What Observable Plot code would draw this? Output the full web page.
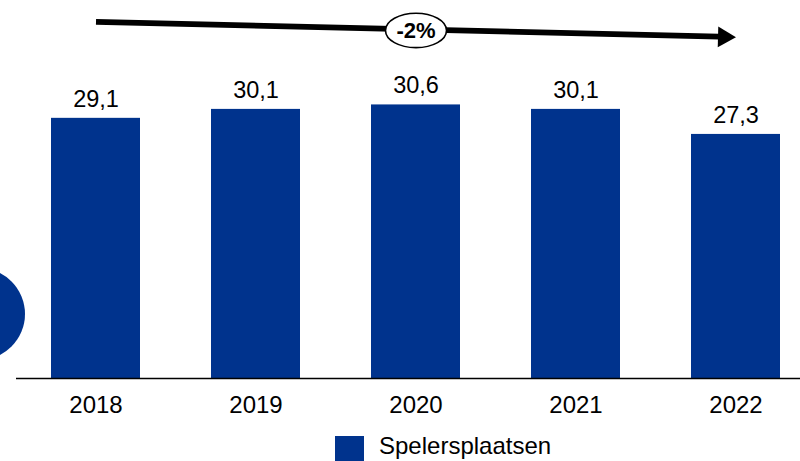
<!DOCTYPE html>
<html>
<head>
<meta charset="utf-8">
<script src="https://cdn.jsdelivr.net/npm/d3@7"></script>
<script src="https://cdn.jsdelivr.net/npm/@observablehq/plot@0.6"></script>
<style>
  html, body { margin: 0; padding: 0; background: #fff; }
  body { width: 800px; height: 461px; overflow: hidden; position: relative;
         font-family: "Liberation Sans", Arial, sans-serif; color: #000; }
  #chart svg { display: block; }
  #legend { position: relative; height: 36px; }
  #legend .sw { position: absolute; left: 335px; top: 11px; width: 29px; height: 29px; }
  #legend .lb { position: absolute; left: 379px; top: 9px; font-size: 24px; line-height: 24px; white-space: nowrap; }
  #deco { position: absolute; left: -67px; top: 268px; width: 92px; height: 92px; border-radius: 50%; }
</style>
</head>
<body>
<div id="chart"></div>
<div id="legend"><span class="sw"></span><span class="lb"></span></div>
<div id="deco"></div>
<script>
// ---- data ----
const years = ["2018", "2019", "2020", "2021", "2022"];
const spelersplaatsen = [29.1, 30.1, 30.6, 30.1, 27.3];
const valueLabels = ["29,1", "30,1", "30,6", "30,1", "27,3"];
const seriesName = "Spelersplaatsen";
const trendLabel = "-2%";
const trendStart = {x: "2018", y: 39.9};
const trendEnd = {x: "2022", y: 38.2};
const trendBadge = {x: "2020", y: 38.93};

const blue = "#00338d";

const data = years.map((year, i) => ({year, value: spelersplaatsen[i], label: valueLabels[i]}));

// custom ellipse symbol for the trend badge
const ellipseSymbol = {
  draw(ctx) {
    const rx = 30.5, ry = 17.2, k = 0.5523;
    ctx.moveTo(rx, 0);
    ctx.bezierCurveTo(rx, ry * k, rx * k, ry, 0, ry);
    ctx.bezierCurveTo(-rx * k, ry, -rx, ry * k, -rx, 0);
    ctx.bezierCurveTo(-rx, -ry * k, -rx * k, -ry, 0, -ry);
    ctx.bezierCurveTo(rx * k, -ry, rx, -ry * k, rx, 0);
    ctx.closePath();
  }
};

const chart = Plot.plot({
  width: 800,
  height: 425,
  marginTop: 0,
  marginBottom: 47,
  marginLeft: 16,
  marginRight: 0,
  style: {fontFamily: "'Liberation Sans', Arial, sans-serif", background: "#fff", color: "#000"},
  x: {domain: years, range: [15.5, 815.5], paddingInner: 0.444, paddingOuter: 0.222, label: null},
  y: {domain: [0, 42.28], axis: null},
  marks: [
    Plot.barY(data, {x: "year", y: "value", fill: blue}),
    Plot.ruleY([0], {stroke: "#000", strokeWidth: 1.5}),
    Plot.axisX({tickSize: 0, tickPadding: 17, fontSize: 24, label: null}),
    Plot.text(data, {x: "year", y: "value", text: "label", dy: -19, lineAnchor: "middle", fontSize: 23.5, fill: "#000"}),
    Plot.arrow([{x1: trendStart.x, y1: trendStart.y, x2: trendEnd.x, y2: trendEnd.y}], {
      x1: "x1", y1: "y1", x2: "x2", y2: "y2", bend: 0, headLength: 0, insetEnd: 17,
      stroke: "#000", strokeWidth: 5.7, strokeLinecap: "butt"
    }),
    Plot.dot([trendEnd], {x: "x", y: "y", symbol: "triangle", r: 7.7, fill: "#000", stroke: null, rotate: 91.4, dx: -12}),
    Plot.dot([trendBadge], {x: "x", y: "y", symbol: ellipseSymbol, r: 1, fill: "#fff", stroke: "#000", strokeWidth: 1.6}),
    Plot.text([trendBadge], {x: "x", y: "y", text: () => trendLabel, fontWeight: "bold", fontSize: 22, dy: 1, fill: "#000"})
  ]
});
document.getElementById("chart").append(chart);

document.querySelector("#legend .sw").style.background = blue;
document.querySelector("#legend .lb").textContent = seriesName;
document.getElementById("deco").style.background = blue;
</script>
</body>
</html>
